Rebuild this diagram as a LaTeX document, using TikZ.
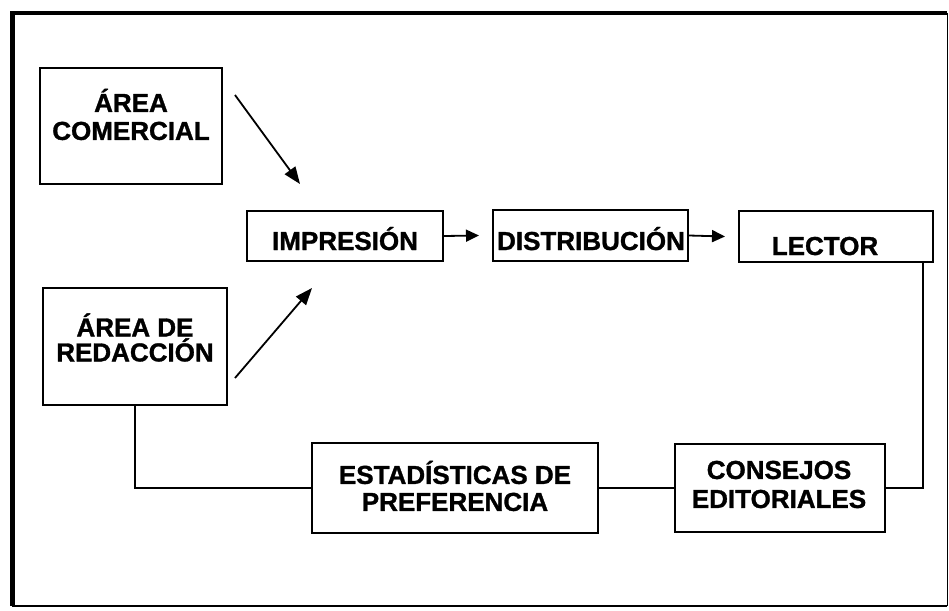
\documentclass[tikz,border=0pt]{standalone}
\usepackage{fontspec}
\setmainfont{Liberation Sans}[BoldFeatures={FakeBold=1.2}]
\usetikzlibrary{arrows.meta}
\begin{document}
\begin{tikzpicture}[x=1pt,y=-1pt,
  box/.style={draw, line width=2pt, inner sep=0pt},
  lbl/.style={font=\fontsize{26}{28}\selectfont\bfseries, align=center, inner sep=0pt},
  conn/.style={line width=1.8pt},
  arr/.style={line width=1.8pt, -{Triangle[length=17pt,width=13pt]}},
  sarr/.style={line width=1.8pt, -{Triangle[length=13pt,width=12pt]}}]
\useasboundingbox (0,0) rectangle (949,610);
% outer frame
\coordinate (ftl) at (12,13);
\coordinate (ftr) at (947,13);
\coordinate (fbr) at (947,606);
\coordinate (fbl) at (12,606);
\draw[line width=3.5pt] (ftl) -- (ftr);
\draw[line width=1pt] (ftr) -- (fbr);
\draw[line width=1.8pt] (fbr) -- (fbl);
\draw[line width=5pt] ([yshift=1.75pt]ftl) -- (fbl);
% boxes
\node[box, minimum width=182pt, minimum height=116pt] (com) at (131,126) {};
\node[box, minimum width=184pt, minimum height=117pt] (red) at (135,346.5) {};
\node[box, minimum width=196pt, minimum height=50pt] (imp) at (345,236) {};
\node[box, minimum width=195pt, minimum height=51pt] (dis) at (590.5,235.5) {};
\node[box, minimum width=194pt, minimum height=51pt] (lec) at (836,236.5) {};
\node[box, minimum width=286pt, minimum height=90pt] (est) at (455,488) {};
\node[box, minimum width=210pt, minimum height=88pt] (con) at (780,488) {};
% labels
\node[lbl] (comT) at (131,114.5) {ÁREA\\COMERCIAL};
\node[lbl, font=\fontsize{26}{25}\selectfont\bfseries] (redT) at (135,337.5) {ÁREA DE\\REDACCIÓN};
\node[lbl, anchor=base] (impT) at (345,250) {IMPRESIÓN};
\node[lbl, anchor=base] (disT) at (591,250) {DISTRIBUCIÓN};
\node[lbl, anchor=base] (lecT) at (825,255) {LECTOR};
\node[lbl, font=\fontsize{26}{27}\selectfont\bfseries] (estT) at (455,486) {ESTADÍSTICAS DE\\PREFERENCIA};
\node[lbl, font=\fontsize{26}{29}\selectfont\bfseries] (conT) at (779,484.5) {CONSEJOS\\EDITORIALES};
% arrows
\coordinate (a1s) at (235,95);
\coordinate (a1e) at (300,184);
\coordinate (a2s) at (235,378);
\coordinate (a2e) at (312,288);
\draw[arr] (a1s) -- (a1e);
\draw[arr] (a2s) -- (a2e);
\draw[sarr] (imp.east) -- ([xshift=-13pt]dis.west);
\draw[sarr] (dis.east) -- ([xshift=-13pt]lec.west);
% connectors
\draw[conn] (red.south) |- (est.west);
\draw[conn] (est.east) -- (con.west);
\draw[conn] ([xshift=-11pt]lec.south east) |- (con.east);
\end{tikzpicture}
\end{document}
